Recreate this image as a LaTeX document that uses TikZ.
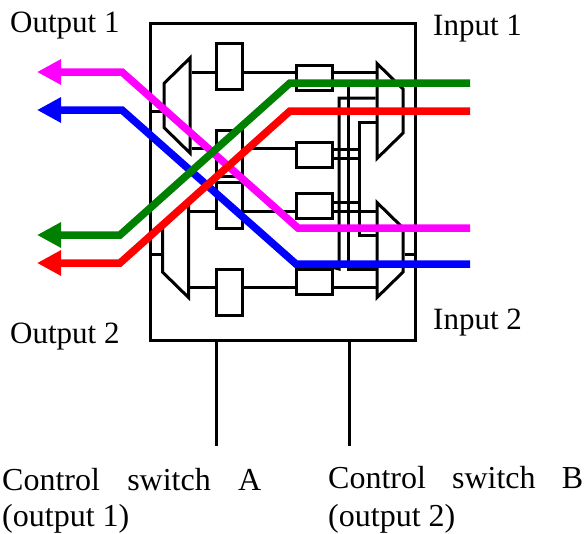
\documentclass[tikz,border=0pt]{standalone}
\usepackage{fontspec}
\setmainfont{Liberation Serif}
\usetikzlibrary{shapes.geometric,arrows.meta}
\definecolor{pathgreen}{RGB}{0,128,0}
\definecolor{pathmagenta}{RGB}{255,0,255}
\definecolor{pathblue}{RGB}{0,0,255}
\definecolor{pathred}{RGB}{255,0,0}
\tikzstyle{box} = [rectangle, draw, line width=3pt, inner sep=0pt, minimum width=26pt, minimum height=46pt]
\tikzstyle{wide} = [box, minimum width=36pt, minimum height=25pt]
\tikzstyle{mux} = [trapezium, draw, line width=3pt, inner sep=1pt, trapezium stretches=true,
                  trapezium angle=60, minimum width=95pt, minimum height=26pt]
\tikzstyle{wire} = [draw, line width=3pt]
\tikzstyle{lightpath} = [draw, line width=7.5pt, -{Triangle[length=24pt,width=24pt]}]
\tikzstyle{label} = [inner sep=0pt, anchor=base west, font=\fontsize{31}{36}\selectfont, align=left]
\tikzstyle{caption} = [label, font=\fontsize{32}{36}\selectfont]

\begin{document}
\begin{tikzpicture}[x=1pt,y=-1pt]
        \useasboundingbox (0,0) rectangle (586,533);
        \node [rectangle, draw, line width=3pt, inner sep=0pt, minimum width=265pt, minimum height=317pt] (switch) at (282.5,181.5) {};

        % blocks
        \node [mux, shape border rotate=90] (muxa) at (177,105.5) {};
        \node [mux, shape border rotate=90] (muxb) at (175.5,250) {};
        \node [mux, shape border rotate=270] (muxe) at (390,111) {};
        \node [mux, shape border rotate=270] (muxf) at (390,250) {};
        \node [box] (boxa) at (229,66) {};
        \node [box] (boxb) at (229,153) {};
        \node [box] (boxc) at (229,205) {};
        \node [box] (boxd) at (229,292.5) {};
        \node [wide] (boxe) at (314,77.5) {};
        \node [wide] (boxf) at (314,155) {};
        \node [wide] (boxg) at (314,206) {};
        \node [wide] (boxh) at (314,281.5) {};

        % levels and bends
        \foreach \name/\x/\y in {ya/0/72, yb/0/148, yc/0/211, yd/0/287, ye/0/111, yf/0/254,
                                 ga/339/98, gb/339/269, ha/348/83, hb/348/269, ia/359/122, ib/359/235,
                                 ka/332/149, kb/332/158, kc/332/202, ctla/216/446, ctlb/349/446}
            \coordinate (\name) at (\x,\y);

        \foreach \from/\to/\lev in {muxa/boxa/ya, boxa/boxe/ya, boxe/muxe/ya, muxa/boxb/yb, boxb/boxf/yb,
                                    muxb/boxc/yc, boxc/boxg/yc, boxg/muxf/yc, muxb/boxd/yd, boxd/boxh/yd, boxh/muxf/yd}
            \draw [wire] (\from.east |- \lev) -- (\to.west |- \lev);

        \draw [wire] (switch.west |- ye) -- (muxa.west |- ye);
        \draw [wire] (switch.west |- yf) -- (muxb.west |- yf);
        \draw [wire] (muxf.east |- yf) -- (switch.east |- yf);
        \draw [wire] (muxe.west |- ga) -- (ga) -- (gb) -- (boxh.north east);
        \draw [wire] (ha) -- (hb) -- (muxf.west |- hb);
        \draw [wire] (muxe.west |- ia) -- (ia) -- (ib) -- (muxf.west |- ib);
        \draw [wire] (ka) -- (ia |- ka);
        \draw [wire] (kb) -- (ia |- kb);
        \draw [wire] (kc) -- (ia |- kc);
        \draw [wire] (ctla |- switch.south) -- (ctla);
        \draw [wire] (ctlb |- switch.south) -- (ctlb);

        % light paths
        \foreach \col/\xa/\ya/\xb/\xc/\yc in {pathblue/470/264/296/122/110, pathmagenta/470/228/298/122/72,
                                               pathgreen/470/83/290/120/235, pathred/470/111/290/120/263}
            \draw [lightpath, \col] (\xa,\ya) -- (\xb,\ya) -- (\xc,\yc) -- (37,\yc);

        \node [label] (outa) at (10,32) {Output 1};
        \node [label] (outb) at (10,343) {Output 2};
        \node [label] (ina) at (433,35) {Input 1};
        \node [label] (inb) at (433,329) {Input 2};
        \node [caption] (ctrla) at (2,526) {\hbox to 259pt{Control\hfill switch\hfill A}\\(output 1)};
        \node [caption] (ctrlb) at (328,526) {\hbox to 255pt{Control\hfill switch\hfill B}\\[2pt](output 2)};
\end{tikzpicture}
\end{document}
